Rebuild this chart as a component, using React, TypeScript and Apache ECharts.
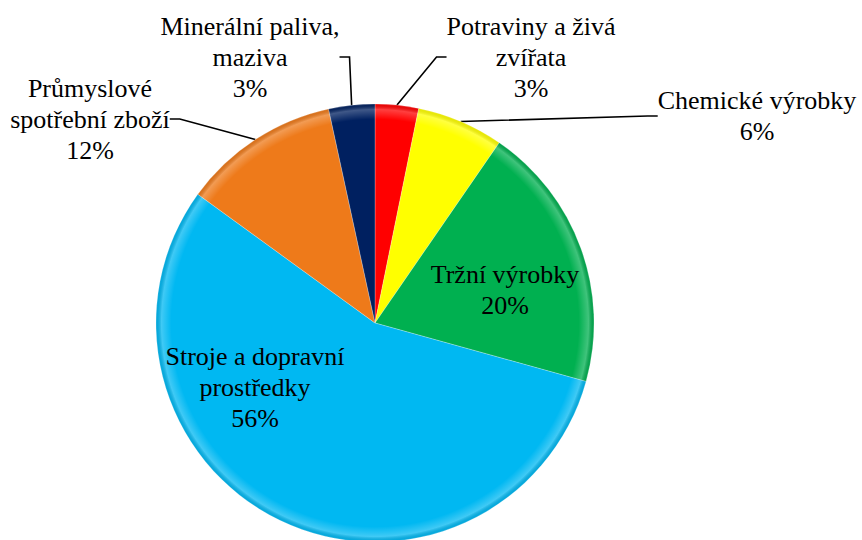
import React, { useEffect, useRef } from "react";
import * as echarts from "echarts";

const categories = [
  "Potraviny a živá\nzvířata",
  "Chemické výrobky",
  "Tržní výrobky",
  "Stroje a dopravní\nprostředky",
  "Průmyslové\nspotřební zboží",
  "Minerální paliva,\nmaziva",
];
const values = [3.2, 6.4, 19.7, 55.7, 11.6, 3.4];
const colors = ["#FF0000", "#FFFF00", "#00B050", "#00B8F2", "#EE7A1A", "#002060"];
const insideIdx = [2, 3];
const labelPos: [number, number][] = [
  [531, 57],
  [757, 116],
  [505, 290],
  [255, 387],
  [90, 119],
  [250, 57],
];
const FONT = "Liberation Serif";

export default function App() {
  const ref = useRef<HTMLDivElement>(null);
  useEffect(() => {
    if (!ref.current) return;
    const chart = echarts.init(ref.current, null, { renderer: "svg" });
    const data = categories.map((name, i) => ({
      name,
      value: values[i],
      itemStyle: { color: colors[i] },
      labelLine: { show: !insideIdx.includes(i) },
    }));
    chart.setOption({
      animation: false,
      backgroundColor: "#ffffff",
      textStyle: { fontFamily: FONT },
      series: [
        {
          type: "pie",
          center: [375, 323],
          radius: [0, 219],
          startAngle: 90,
          clockwise: true,
          percentPrecision: 0,
          data,
          itemStyle: { borderColor: "rgba(255,255,255,0.25)", borderWidth: 1 },
          label: {
            show: true,
            formatter: "{b}\n{d}%",
            fontFamily: FONT,
            fontSize: 26,
            lineHeight: 31,
            color: "#000",
            align: "center",
          },
          labelLine: { show: true, lineStyle: { color: "#000", width: 1.6 }, length: 20, length2: 10 },
          labelLayout: (p: any) => {
            const pos = labelPos[p.dataIndex];
            return { x: pos[0], y: pos[1], align: "center", verticalAlign: "middle" };
          },
          emphasis: { disabled: true },
        },
        {
          type: "pie",
          center: [375, 323],
          radius: [0, 219],
          startAngle: 90,
          clockwise: true,
          silent: true,
          data: categories.map((name, i) => ({ name, value: values[i] })),
          label: { show: false },
          labelLine: { show: false },
          itemStyle: {
            color: {
              type: "radial",
              x: 375,
              y: 323,
              r: 219,
              global: true,
              colorStops: [
                { offset: 0, color: "rgba(255,255,255,0)" },
                { offset: 0.93, color: "rgba(255,255,255,0)" },
                { offset: 0.975, color: "rgba(255,255,255,0.25)" },
                { offset: 1, color: "rgba(0,0,0,0.08)" },
              ],
            },
          },
          emphasis: { disabled: true },
        },
      ],
    });
    return () => chart.dispose();
  }, []);
  return (
    <div
      ref={ref}
      style={{ position: "absolute", left: 0, top: 0, width: 862, height: 540 }}
    />
  );
}
